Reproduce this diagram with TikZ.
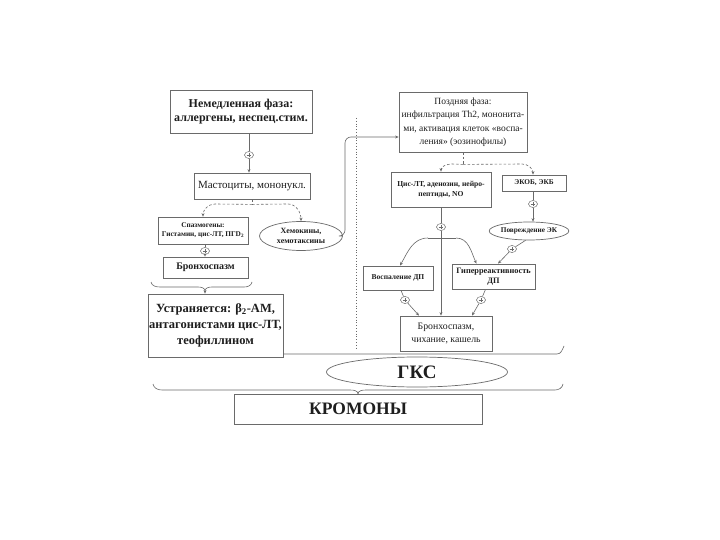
\documentclass[tikz,border=0pt]{standalone}
\usepackage{fontspec}
\setmainfont{Liberation Serif}
\usetikzlibrary{shapes.geometric,arrows.meta,calc}
\definecolor{ln}{HTML}{6A6A6A}
\definecolor{tx}{HTML}{1E1E1E}
\begin{document}
\begin{tikzpicture}[x=1pt,y=-1pt,
 box/.style={draw=ln, line width=0.8pt, fill=white, text=tx, align=center, inner sep=1pt},
 oval/.style={ellipse, draw=ln, line width=0.7pt, fill=white, text=tx, align=center, inner sep=0pt},
 pl/.style={ellipse, draw=ln, line width=0.5pt, fill=white, inner sep=0pt, minimum width=9pt, minimum height=7pt,
   path picture={\draw[ln, line width=0.5pt] ($(path picture bounding box.center)+(-2.3,0)$) -- ($(path picture bounding box.center)+(2.3,0)$)
     ($(path picture bounding box.center)+(0,-2)$) -- ($(path picture bounding box.center)+(0,2)$);}},
 con/.style={draw=ln, line width=0.6pt},
 arr/.style={con, -{Stealth[length=3.5pt,width=3pt]}},
 dsh/.style={con, dash pattern=on 2.5pt off 2pt}
]
\useasboundingbox (0,0) rectangle (720,540);
\fill[white] (0,0) rectangle (720,540);

% separators
\draw[ln, dotted, line width=0.8pt] (356,118) -- (356,350);

% left column
\node[box, minimum width=142pt, minimum height=43pt, font=\bfseries\fontsize{12}{14.5}\selectfont] (imm) at (241,111.5) {Немедленная фаза:\\аллергены, неспец.стим.};
\node[pl] (p1) at (249,155) {};
\node[box, minimum width=116pt, minimum height=26pt, font=\fontsize{11}{12}\selectfont] (mast) at (252,186) {Мастоциты, мононукл.};
\node[box, minimum width=90pt, minimum height=27pt, font=\bfseries\fontsize{7.3}{9}\selectfont] (spasm) at (203,230.5) {Спазмогены:\\Гистамин, цис-ЛТ, ПГD\textsubscript{2}};
\node[pl] (p2) at (205,251) {};
\node[box, minimum width=85pt, minimum height=21pt, font=\bfseries\fontsize{10}{12}\selectfont] (bron) at (205.5,267.5) {Бронхоспазм};
\node[box, minimum width=135pt, minimum height=63pt, font=\bfseries\fontsize{12.5}{16}\selectfont] (elim) at (215.5,325.5) {Устраняется: β\textsubscript{2}-АМ,\\антагонистами цис-ЛТ,\\теофиллином};
\node[oval, minimum width=83pt, minimum height=29pt, font=\bfseries\fontsize{8}{9.5}\selectfont] (chem) at (301,236) {Хемокины,\\хемотаксины};

\draw[con] (imm.south -| p1) -- (p1);
\draw[arr] (p1) -- (p1 |- mast.north);
\draw[dsh] (mast.south) -- ++(0,5) coordinate (s1);
\draw[dsh, -{Stealth[length=3.5pt,width=3pt]}] (s1) -- (215,204) to[out=180,in=90] (spasm.north);
\draw[dsh, -{Stealth[length=3.5pt,width=3pt]}] (s1) -- (288,204) to[out=0,in=90] (chem.north);
\draw[con] (spasm.south -| p2) -- (p2);
\draw[arr] (p2) -- (p2 |- bron.north);
\coordinate (b1) at (205,291);
\draw[con] (151,282) to[out=-80,in=180] (160,287) -- (198,287) to[out=0,in=90] (b1);
\draw[con] (b1) to[out=90,in=180] (212,287) -- (244,287) to[out=0,in=-100] (252,282);
\draw[arr] (b1) -- (b1 |- elim.north);

% right column
\node[box, minimum width=128pt, minimum height=60pt, font=\fontsize{9.5}{13.5}\selectfont] (late) at (463,122) {Поздняя фаза:\\инфильтрация Th2, мононита-\\ми, активация клеток «воспа-\\ления» (эозинофилы)};
\coordinate (lk) at (345,137);
\draw[arr, rounded corners=6pt] (chem.east) -| (lk) -- (late.west |- lk);

\node[box, minimum width=100pt, minimum height=35pt, font=\bfseries\fontsize{7.6}{10.5}\selectfont] (cis) at (441,189.5) {Цис-ЛТ, аденозин, нейро-\\пептиды, NO};
\node[box, minimum width=64pt, minimum height=16pt, font=\bfseries\fontsize{7.3}{9}\selectfont] (ekob) at (534,183) {ЭКОБ, ЭКБ};
\node[pl] (p3) at (533,204) {};
\node[oval, minimum width=77pt, minimum height=18pt, font=\bfseries\fontsize{7.3}{9}\selectfont] (dmg) at (529,231) {Повреждение ЭК};
\node[pl] (p4) at (441,227) {};
\node[box, minimum width=70pt, minimum height=24pt, font=\bfseries\fontsize{7.5}{9}\selectfont] (infl) at (398,278) {Воспаление ДП};
\node[box, minimum width=83pt, minimum height=25pt, font=\bfseries\fontsize{8.3}{10}\selectfont] (hyp) at (493.5,276.5) {Гиперреактивность\\ДП};
\node[pl] (p5) at (512,249) {};
\node[pl] (p6) at (405,300) {};
\node[pl] (p7) at (481,300) {};
\node[box, minimum width=92pt, minimum height=35pt, font=\fontsize{9.8}{13}\selectfont] (bron2) at (446,333.5) {Бронхоспазм,\\чихание, кашель};

\draw[dsh] (late.south) -- ++(0,12) coordinate (s2);
\draw[dsh, -{Stealth[length=3.5pt,width=3pt]}] (s2) -- (452,164) to[out=180,in=90] (cis.north);
\draw[dsh, -{Stealth[length=3.5pt,width=3pt]}] (s2) -- (522,164) to[out=0,in=90] (ekob.north -| p3);
\draw[con] (ekob.south -| p3) -- (p3);
\draw[arr] (p3) -- (p3 |- dmg.north);
\draw[con] (cis.south) -- (p4);
\draw[arr] (p4) -- (p4 |- bron2.north);
\coordinate (u1) at (428,238);
\coordinate (u2) at (456,238);
\draw[con] (u1) -- (u2);
\draw[arr] (u1) to[out=180,in=60] ($(infl.north)+(2,0)$);
\draw[arr] (u2) to[out=0,in=115] ($(hyp.north)+(-17,0)$);
\draw[con] (dmg.250) -- (p5);
\draw[arr] (p5) -- ($(hyp.north)+(4.5,0)$);
\draw[con] ($(infl.south)+(3,0)$) -- (p6);
\draw[arr] (p6) -- ($(bron2.north)+(-27,0)$);
\draw[con] ($(hyp.south)+(-8,0)$) -- (p7);
\draw[arr] (p7) -- ($(bron2.north)+(26,0)$);

% bottom
\draw[con] (elim.east |- 0,354) -- (557,354) to[out=0,in=-115] (564,346);
\node[oval, minimum width=181pt, minimum height=30pt, font=\bfseries\fontsize{19}{19}\selectfont] (gks) at (417,372) {ГКС};
\node[box, minimum width=248pt, minimum height=30pt, font=\bfseries\fontsize{17.5}{17.5}\selectfont] (krom) at (358,409) {КРОМОНЫ};
\coordinate (t2) at (358,394);
\draw[con] (153,384) to[out=-80,in=180] (162,390) -- (350,390) to[out=0,in=90] (t2);
\draw[con] (t2) to[out=90,in=180] (366,390) -- (555,390) to[out=0,in=-100] (563,384);
\end{tikzpicture}
\end{document}
